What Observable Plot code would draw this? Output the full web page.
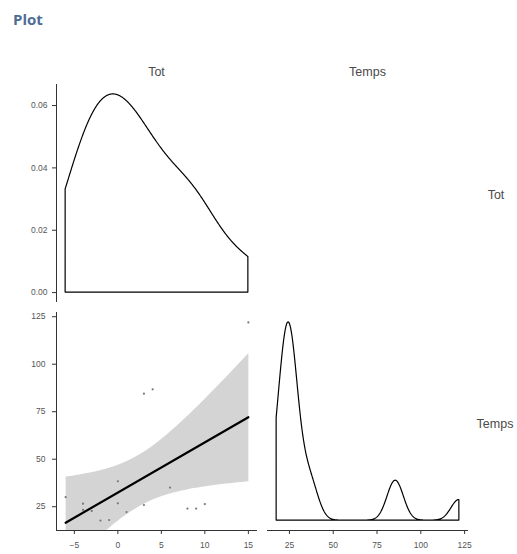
<!DOCTYPE html>
<html><head><meta charset="utf-8">
<script src="https://cdn.jsdelivr.net/npm/d3@7"></script>
<script src="https://cdn.jsdelivr.net/npm/@observablehq/plot@0.6"></script>
<style>
body{margin:0;background:#fff;}
#wrap{position:relative;width:517px;height:554px;overflow:hidden;background:#fff;font-family:"Liberation Sans",Arial,sans-serif;}
#wrap svg{position:absolute;display:block;overflow:visible;}
.strip{position:absolute;font-size:12.5px;color:#4a4a4a;transform:translate(-50%,-50%);white-space:nowrap;}
#title{position:absolute;left:13px;top:9px;font:bold 15px "Open Sans",sans-serif;color:#4e6d95;}
</style></head><body>
<div id="wrap"><div id="title">Plot</div></div>
<script>
// ---- data ----
const varNames = ["Tot", "Temps"];
const tot   = [-6, -4, -4, -3, -2, -1, 0, 0, 1, 3, 3, 4, 6, 8, 9, 10, 15];
const temps = [30, 26.6, 23.3, 22.8, 17.7, 18, 38.4, 26.8, 22.2, 25.9, 84.5, 86.8, 35.1, 24, 24, 26.4, 122];
const totTicks = [-5, 0, 5, 10, 15];
const tempsTicks = [25, 50, 75, 100, 125];
const densTicks = [0, 0.02, 0.04, 0.06];

// ---- statistics like ggplot's stat_density (gaussian, bw.nrd0) ----
function nrd0(v) {
  const s = d3.deviation(v);
  const q = (d3.quantile(v, 0.75) - d3.quantile(v, 0.25)) / 1.34;
  return 0.9 * Math.min(s, q) * Math.pow(v.length, -0.2);
}
function kde(v) {
  const h = nrd0(v), [a, b] = d3.extent(v), n = 512;
  return d3.range(n).map(i => {
    const x = a + (b - a) * i / (n - 1);
    const y = d3.mean(v, xi => Math.exp(-0.5 * ((x - xi) / h) ** 2)) / (h * Math.sqrt(2 * Math.PI));
    return {x, y};
  });
}
const expand = ([a, b]) => [a - (b - a) * 0.05, b + (b - a) * 0.05];

const pairs = tot.map((t, i) => ({Tot: t, Temps: temps[i]}));
const densTot = kde(tot), densTemps = kde(temps);
const xTot = expand(d3.extent(tot)), xTemps = expand(d3.extent(temps));
const yDensTot = expand([0, d3.max(densTot, d => d.y)]);
const yDensTemps = expand([0, d3.max(densTemps, d => d.y)]);

const axisColor = "#333";
const tickText = {fontSize: 8.5, fill: "#555", stroke: axisColor, tickSize: 4, label: null, fontFamily: "Liberation Sans, Arial, sans-serif"};
const wrap = document.getElementById("wrap");
function place(svg, left, top) { svg.style.left = left + "px"; svg.style.top = top + "px"; wrap.appendChild(svg); }

// top-left: density of Tot
place(Plot.plot({
  width: 260, height: 226, marginLeft: 56, marginRight: 3, marginTop: 4, marginBottom: 4,
  x: {domain: xTot, axis: null}, y: {domain: yDensTot, axis: null},
  marks: [
    Plot.areaY(densTot, {x: "x", y: "y", fill: "none", stroke: "black", strokeWidth: 1.2}),
    Plot.ruleX([xTot[0]], {stroke: axisColor}),
    Plot.axisY(densTicks, {...tickText, tickPadding: 5, tickFormat: d3.format(".2f")})
  ]
}), 0, 80);

// bottom-left: scatter Tot vs Temps with linear fit
place(Plot.plot({
  width: 260, height: 246, marginLeft: 56, marginRight: 3, marginTop: 4, marginBottom: 24,
  x: {domain: xTot, axis: null}, y: {domain: xTemps, axis: null},
  marks: [
    Plot.linearRegressionY(pairs, {x: "Tot", y: "Temps", ci: 0.95, fill: "#999", fillOpacity: 0.42, stroke: "black", strokeWidth: 2.2, clip: true}),
    Plot.dot(pairs, {x: "Tot", y: "Temps", r: 1.1, fill: "#777", stroke: null}),
    Plot.ruleX([xTot[0]], {stroke: axisColor}),
    Plot.ruleY([xTemps[0]], {stroke: axisColor}),
    Plot.axisY(tempsTicks, {...tickText, tickPadding: 7}),
    Plot.axisX(totTicks, {...tickText, tickPadding: 7})
  ]
}), 0, 308);

// bottom-right: density of Temps
place(Plot.plot({
  width: 257, height: 246, marginLeft: 7, marginRight: 49, marginTop: 4, marginBottom: 24,
  x: {domain: xTemps, axis: null}, y: {domain: yDensTemps, axis: null},
  marks: [
    Plot.areaY(densTemps, {x: "x", y: "y", fill: "none", stroke: "black", strokeWidth: 1.2}),
    Plot.ruleY([yDensTemps[0]], {stroke: axisColor}),
    Plot.axisX(tempsTicks, {...tickText, tickPadding: 7})
  ]
}), 260, 308);

// strip labels
const strips = [
  {t: varNames[0], x: 156.5, y: 72}, {t: varNames[1], x: 367.5, y: 72},
  {t: varNames[0], x: 496, y: 195}, {t: varNames[1], x: 495, y: 424}
];
for (const s of strips) {
  const d = document.createElement("div");
  d.className = "strip"; d.textContent = s.t;
  d.style.left = s.x + "px"; d.style.top = s.y + "px";
  wrap.appendChild(d);
}
</script>
</body></html>
